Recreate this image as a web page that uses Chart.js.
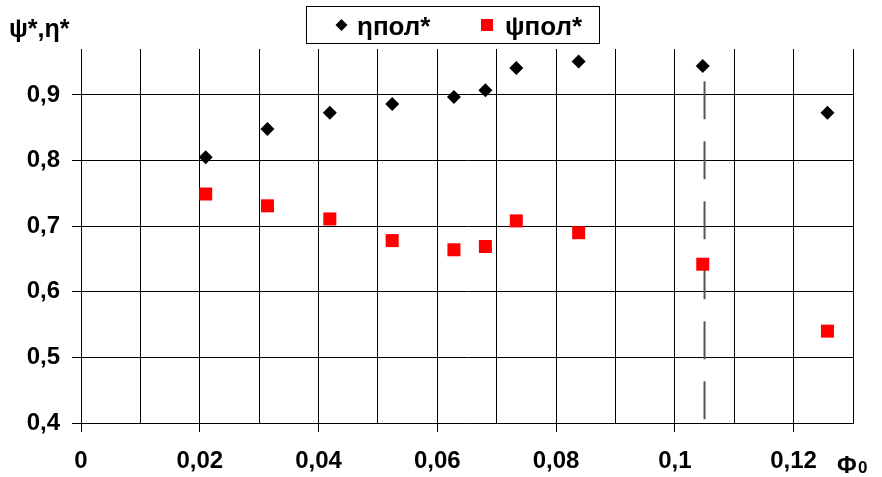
<!DOCTYPE html>
<html lang="ru">
<head>
<meta charset="UTF-8" />
<title>ψ*, η* vs Φ0</title>
<script src="https://cdn.jsdelivr.net/npm/chart.js"></script>
<style>
  html, body { margin: 0; padding: 0; background: #fff; }
  #wrap { width: 882px; height: 477px; }
</style>
</head>
<body>
<div id="wrap"><canvas id="chart" width="882" height="477"></canvas></div>
<script>
// flow coefficient Φ0
const phi = [0.021, 0.0314, 0.0419, 0.0524, 0.0628, 0.0681, 0.0733, 0.0838, 0.1047, 0.1257];
// polytropic efficiency ηпол*
const etaPol = [0.805, 0.848, 0.873, 0.886, 0.897, 0.907, 0.941, 0.951, 0.944, 0.873];
// head coefficient ψпол*
const psiPol = [0.749, 0.731, 0.711, 0.678, 0.664, 0.669, 0.708, 0.690, 0.642, 0.540];

// vertical marker at Φ0 = 0.105
const markerX = [0.105, 0.105];
const markerY = [0.921, 0.4];

const xTicks = [0, 0.01, 0.02, 0.03, 0.04, 0.05, 0.06, 0.07, 0.08, 0.09, 0.1, 0.11, 0.12, 0.13];
const xLabels = ['0', '', '0,02', '', '0,04', '', '0,06', '', '0,08', '', '0,1', '', '0,12', ''];
const yTicks = [0.4, 0.5, 0.6, 0.7, 0.8, 0.9];
const yLabels = ['0,4', '0,5', '0,6', '0,7', '0,8', '0,9'];

const FONT = '"Liberation Sans", Arimo, sans-serif';

const pts = (xs, ys) => xs.map((x, i) => ({ x: x, y: ys[i] }));

// legend box, axis captions
const decor = {
  id: 'decor',
  afterDraw(chart) {
    const ctx = chart.ctx;
    ctx.save();
    ctx.strokeStyle = '#000';
    ctx.lineWidth = 1;
    ctx.strokeRect(306.5, 6.5, 293, 37);

    ctx.fillStyle = '#000';
    ctx.beginPath();
    ctx.moveTo(341.5, 19);
    ctx.lineTo(347.5, 25);
    ctx.lineTo(341.5, 31);
    ctx.lineTo(335.5, 25);
    ctx.closePath();
    ctx.fill();
    ctx.fillStyle = '#ff0000';
    ctx.fillRect(481, 19, 12, 12);

    ctx.fillStyle = '#000';
    ctx.font = 'normal bold 26px ' + FONT;
    ctx.textBaseline = 'alphabetic';
    ctx.textAlign = 'left';
    ctx.fillText('ηпол*', 357, 35);
    ctx.fillText('ψпол*', 505, 35);

    ctx.font = 'normal bold 25px ' + FONT;
    ctx.fillText('ψ*,η*', 9, 37);
    ctx.font = 'normal bold 24px ' + FONT;
    ctx.fillText('Φ', 837, 473);
    ctx.font = 'normal bold 17px ' + FONT;
    ctx.fillText('0', 858, 473);
    ctx.restore();
  }
};

new Chart(document.getElementById('chart'), {
  type: 'scatter',
  data: {
    datasets: [
      {
        label: 'ηпол*',
        data: pts(phi, etaPol),
        pointStyle: 'rectRot',
        pointRadius: 7,
        pointHoverRadius: 7,
        borderWidth: 0,
        backgroundColor: '#000'
      },
      {
        label: 'ψпол*',
        data: pts(phi, psiPol),
        pointStyle: 'rect',
        pointRadius: 9.2,
        pointHoverRadius: 9.2,
        borderWidth: 0,
        backgroundColor: '#ff0000'
      },
      {
        type: 'line',
        label: 'marker',
        data: pts(markerX, markerY),
        borderColor: '#555',
        borderWidth: 2,
        borderDash: [38, 22],
        pointRadius: 0,
        fill: false
      }
    ]
  },
  options: {
    responsive: false,
    animation: false,
    layout: { padding: { left: 0, right: 29, top: 49, bottom: 0 } },
    plugins: {
      legend: { display: false },
      tooltip: { enabled: false }
    },
    scales: {
      x: {
        type: 'linear',
        min: 0,
        max: 0.13,
        afterBuildTicks: s => { s.ticks = xTicks.map(v => ({ value: v })); },
        afterFit: s => { s.height = 54; },
        border: { color: '#000', width: 1 },
        grid: {
          color: '#000',
          lineWidth: 1,
          tickLength: 9,
          tickColor: c => (c.index % 2 === 0 && c.index < 13) ? '#000' : 'rgba(0,0,0,0)'
        },
        ticks: {
          autoSkip: false,
          maxRotation: 0,
          padding: 15,
          color: '#000',
          font: { family: FONT, size: 24, weight: 'bold', style: 'normal' },
          callback: (v, i) => xLabels[i]
        }
      },
      y: {
        type: 'linear',
        min: 0.4,
        max: 0.97,
        afterBuildTicks: s => { s.ticks = yTicks.map(v => ({ value: v })); },
        afterFit: s => { s.width = 81; },
        border: { color: '#000', width: 1 },
        grid: { color: '#000', lineWidth: 1, tickLength: 9, tickColor: '#000' },
        ticks: {
          padding: 12,
          color: '#000',
          font: { family: FONT, size: 24, weight: 'bold', style: 'normal' },
          callback: (v, i) => yLabels[i]
        }
      }
    }
  },
  plugins: [decor]
});
</script>
</body>
</html>
